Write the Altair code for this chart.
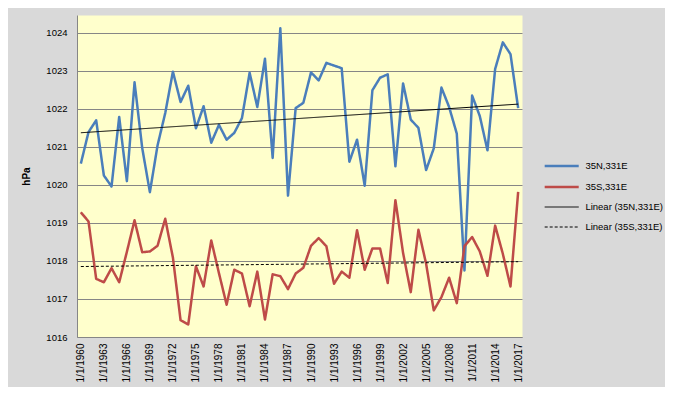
import altair as alt
import pandas as pd

years = list(range(1960, 2018))
north = [1020.56, 1021.39, 1021.70, 1020.25, 1019.96, 1021.79, 1020.10, 1022.70, 1020.97, 1019.81,
         1021.04, 1021.89, 1022.98, 1022.18, 1022.61, 1021.49, 1022.07, 1021.11, 1021.58, 1021.19,
         1021.37, 1021.76, 1022.95, 1022.05, 1023.32, 1020.71, 1024.12, 1019.72, 1022.02, 1022.16,
         1022.96, 1022.75, 1023.21, 1023.14, 1023.07, 1020.61, 1021.19, 1019.98, 1022.49, 1022.82,
         1022.91, 1020.49, 1022.67, 1021.72, 1021.50, 1020.39, 1020.96, 1022.56, 1022.05, 1021.35,
         1017.75, 1022.35, 1021.81, 1020.91, 1023.05, 1023.75, 1023.44, 1022.02]
south = [1019.28, 1019.04, 1017.53, 1017.44, 1017.81, 1017.44, 1018.24, 1019.07, 1018.23, 1018.25,
         1018.40, 1019.11, 1018.09, 1016.44, 1016.33, 1017.86, 1017.33, 1018.54, 1017.68, 1016.85,
         1017.77, 1017.67, 1016.81, 1017.72, 1016.46, 1017.65, 1017.60, 1017.26, 1017.67, 1017.82,
         1018.40, 1018.60, 1018.39, 1017.40, 1017.72, 1017.56, 1018.81, 1017.77, 1018.33, 1018.33,
         1017.42, 1019.60, 1018.21, 1017.18, 1018.82, 1017.93, 1016.70, 1017.05, 1017.56, 1016.89,
         1018.39, 1018.63, 1018.25, 1017.61, 1018.93, 1018.19, 1017.33, 1019.82]

series_names = ["35N,331E", "35S,331E", "Linear (35N,331E)", "Linear (35S,331E)"]
series_colors = ["#4A7EBB", "#BE4B48", "#000000", "#000000"]
series_dash = [[1, 0], [1, 0], [1, 0], [3, 2]]
series_width = [2.5, 2.5, 1, 1]
y_ticks = list(range(1016, 1025))
x_ticks = years[::3]

df = pd.DataFrame({
    "year": years * 2,
    "value": north + south,
    "series": [series_names[0]] * len(years) + [series_names[1]] * len(years),
})

x = alt.X("year:Q",
          scale=alt.Scale(domain=[1959.5, 2017.5], nice=False, zero=False),
          axis=alt.Axis(values=x_ticks, labelExpr="'1/1/' + datum.value", labelAngle=-90,
                        grid=False, ticks=False, labelPadding=6, title=None,
                        labelFontSize=10, labelColor="#000000",
                        domainColor="#868686", labelFont="Liberation Sans"))
y = alt.Y("value:Q",
          scale=alt.Scale(domain=[1016, 1024.47], nice=False, zero=False),
          axis=alt.Axis(values=y_ticks, format="d", grid=True, gridColor="#868686",
                        ticks=False, labelPadding=10, title="hPa", titleFontWeight="bold",
                        titleFontSize=10, titleAngle=-90, titleX=-51, titleY=161,
                        titleAlign="center", titleBaseline="middle", labelFontSize=9.5,
                        labelColor="#000000", titleColor="#000000",
                        domainColor="#868686", labelFont="Liberation Sans",
                        titleFont="Liberation Sans"))

legend = alt.Legend(title=None, orient="none", legendX=468.7, legendY=135,
                    symbolType="M-1.19,0H1.19", symbolSize=818, symbolFillColor="transparent",
                    labelFontSize=9.5, labelFont="Liberation Sans", labelColor="#000000",
                    labelOffset=7.7, rowPadding=0, padding=0)

color = alt.Color("series:N", scale=alt.Scale(domain=series_names, range=series_colors), legend=legend)
dash = alt.StrokeDash("series:N", scale=alt.Scale(type="ordinal", domain=series_names, range=series_dash), legend=legend)
width = alt.StrokeWidth("series:N", scale=alt.Scale(type="ordinal", domain=series_names, range=series_width), legend=legend)

lines = alt.Chart(df).mark_line(strokeJoin="round").encode(
    x=x, y=y, color=color, strokeDash=dash, strokeWidth=width)

trend = alt.Chart(df).transform_regression(
    "year", "value", groupby=["series"]
).transform_calculate(
    series="'Linear (' + datum.series + ')'"
).mark_line().encode(x=x, y=y, color=color, strokeDash=dash, strokeWidth=width)

chart = alt.layer(lines, trend).properties(
    width=445, height=322,
    padding={"left": 69, "top": 7, "right": 143, "bottom": 50},
    autosize=alt.AutoSizeParams(type="none"),
    background="#D9D9D9",
).configure_view(fill="#FFFFCC", stroke="transparent")

chart.save("out.html", embed_options={"renderer": "svg", "actions": False})
